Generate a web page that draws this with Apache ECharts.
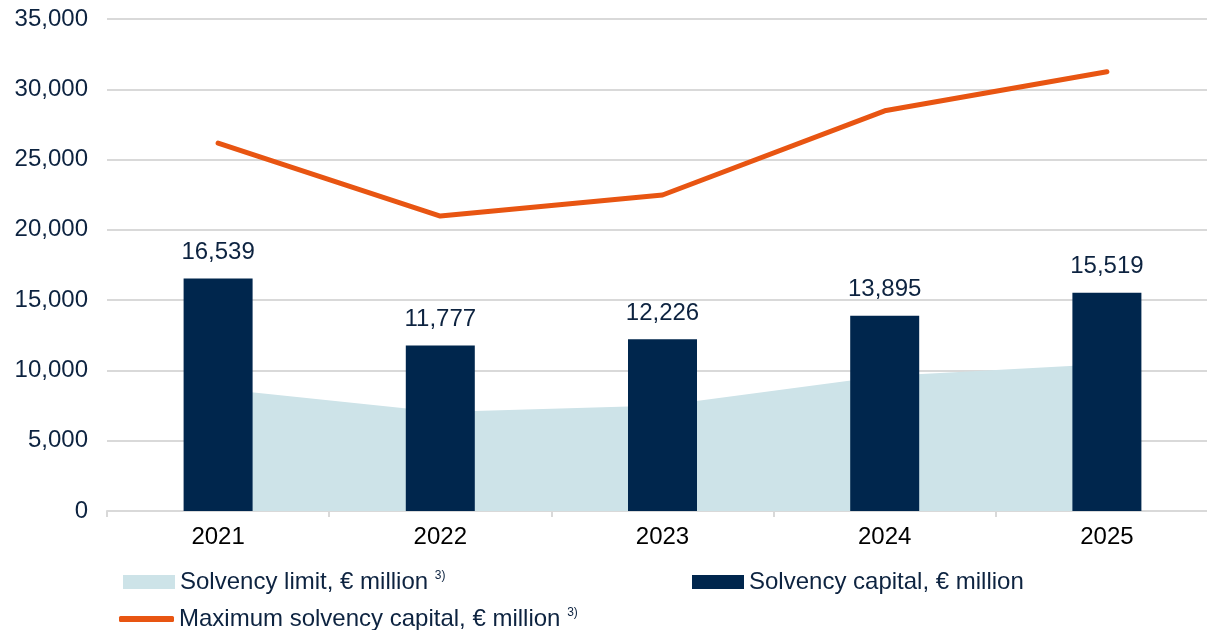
<!DOCTYPE html>
<html><head><meta charset="utf-8">
<script src="https://cdn.jsdelivr.net/npm/echarts@6/dist/echarts.min.js"></script>
<style>html,body{margin:0;padding:0;background:#fff}#c{width:1207px;height:630px}</style>
</head><body><div id="c"></div>
<script>
const categories = ['2021', '2022', '2023', '2024', '2025'];
const solvencyLimit = [8700, 7050, 7500, 9600, 10450];
const solvencyCapital = [16539, 11777, 12226, 13895, 15519];
const maxSolvencyCapital = [26170, 20980, 22480, 28470, 31250];
const yTicks = { min: 0, max: 35000, interval: 5000 };

const txt = '#0d2340';
const font = 'Liberation Sans, Arial, sans-serif';
const chart = echarts.init(document.getElementById('c'));
const legendRich = {
  a: { fontSize: 24, color: txt, fontFamily: font },
  s: { fontSize: 12, color: txt, fontFamily: font, verticalAlign: 'top', padding: [0, 0, 12, 0] }
};
chart.setOption({
  animation: false,
  grid: { left: 107, top: 19, bottom: 119, width: 1111, containLabel: false, outerBoundsMode: 'none' },
  xAxis: {
    type: 'category', data: categories, boundaryGap: true,
    axisLine: { lineStyle: { color: '#d9d9d9', width: 2 } },
    axisTick: { show: true, length: 6, lineStyle: { color: '#d9d9d9', width: 2 } },
    axisLabel: { color: '#000', fontSize: 24, fontFamily: font, margin: 14 }
  },
  yAxis: {
    type: 'value', min: yTicks.min, max: yTicks.max, interval: yTicks.interval,
    axisLine: { show: false }, axisTick: { show: false },
    splitLine: { lineStyle: { color: '#d9d9d9', width: 2 } },
    axisLabel: { color: txt, fontSize: 24, fontFamily: font, margin: 19,
      formatter: v => v.toLocaleString('en-US') }
  },
  legend: [
    { left: 123, top: 570, padding: 0, icon: 'rect', itemWidth: 52, itemHeight: 14,
      data: ['Solvency limit, € million'],
      formatter: n => '{a|' + n + ' }{s|3)}', textStyle: { rich: legendRich } },
    { left: 692, top: 570, padding: 0, icon: 'rect', itemWidth: 52, itemHeight: 14,
      data: ['Solvency capital, € million'],
      formatter: n => '{a|' + n + '}', textStyle: { rich: legendRich } },
    { left: 119, top: 607, padding: 0, icon: 'roundRect', itemWidth: 55, itemHeight: 6,
      data: ['Maximum solvency capital, € million'],
      formatter: n => '{a|' + n + ' }{s|3)}', textStyle: { rich: legendRich } }
  ],
  series: [
    { name: 'Solvency limit, € million', type: 'line', data: solvencyLimit,
      symbol: 'none', lineStyle: { width: 0 }, itemStyle: { color: '#cde3e8' },
      areaStyle: { color: '#cde3e8', opacity: 1 }, z: 1 },
    { name: 'Solvency capital, € million', type: 'bar', data: solvencyCapital,
      barWidth: 69, itemStyle: { color: '#00264d' }, z: 2,
      label: { show: true, position: 'top', distance: 14, color: txt, fontSize: 24, fontFamily: font,
        formatter: p => p.value.toLocaleString('en-US') } },
    { name: 'Maximum solvency capital, € million', type: 'line', data: maxSolvencyCapital,
      symbol: 'none', lineStyle: { color: '#e85512', width: 5, cap: 'round' },
      itemStyle: { color: '#e85512' }, z: 3 }
  ]
});
</script></body></html>
